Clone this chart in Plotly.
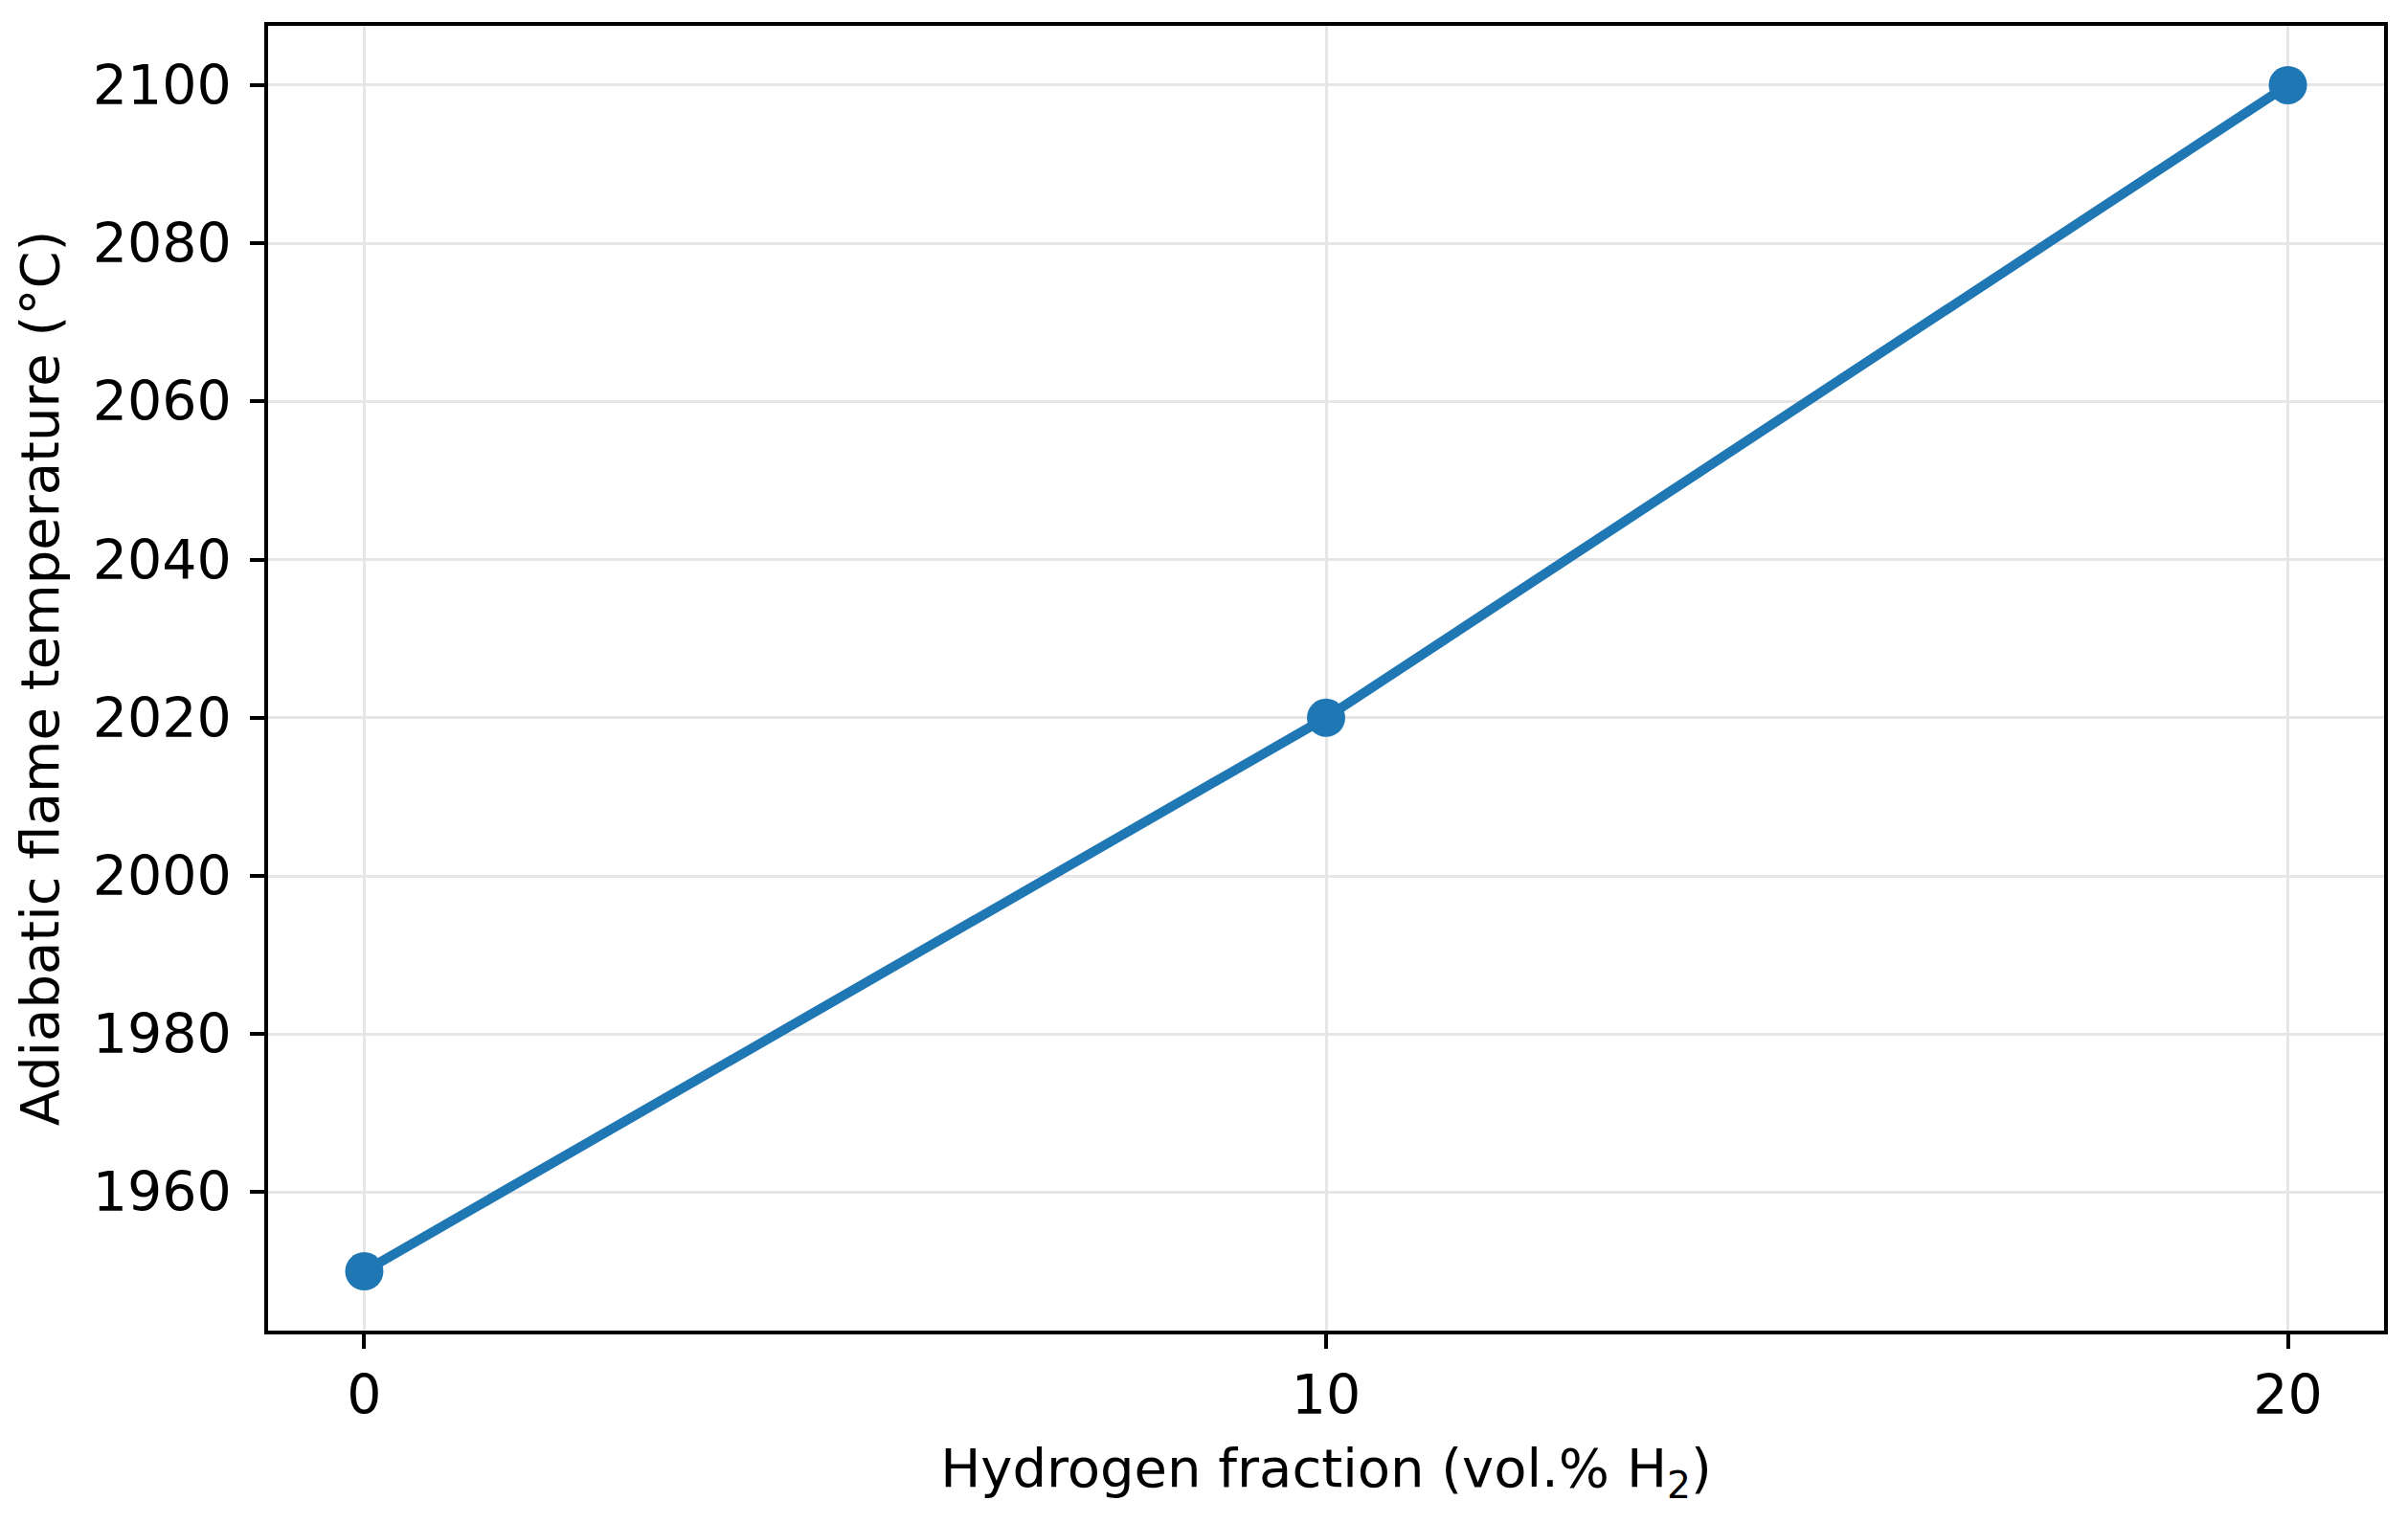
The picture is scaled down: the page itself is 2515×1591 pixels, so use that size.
import plotly.graph_objects as go

# data
h2_fraction = [0, 10, 20]
flame_temp = [1950, 2020, 2100]

x_ticks = [0, 10, 20]
y_ticks = [1960, 1980, 2000, 2020, 2040, 2060, 2080, 2100]

BLUE = '#1f77b4'
FONT = 'DejaVu Sans'

fig = go.Figure()

fig.add_trace(go.Scatter(
    x=h2_fraction,
    y=flame_temp,
    mode='lines+markers',
    line=dict(color=BLUE, width=10),
    marker=dict(color=BLUE, size=40),
    showlegend=False
))

axis_style = dict(
    showline=True,
    linecolor='black',
    linewidth=3.5,
    mirror=True,
    ticks='outside',
    ticklen=15,
    tickwidth=3.5,
    tickcolor='black',
    showgrid=True,
    gridcolor='#e6e6e6',
    gridwidth=3,
    zeroline=False,
    tickfont=dict(family=FONT, size=57, color='black'),
)

fig.update_xaxes(
    range=[-1, 21],
    tickvals=x_ticks,
    title=dict(text='Hydrogen fraction (vol.% H<sub>2</sub>)',
               font=dict(family=FONT, size=56, color='black'), standoff=26),
    **axis_style
)
fig.update_yaxes(
    range=[1942.5, 2107.5],
    tickvals=y_ticks,
    ticklabelstandoff=8,
    title=dict(text='Adiabatic flame temperature (°C)',
               font=dict(family=FONT, size=56, color='black'), standoff=18),
    **axis_style
)

# page body has an 8px margin, so the figure is shrunk to fit
fig.update_layout(
    width=2499,
    height=1575,
    paper_bgcolor='white',
    plot_bgcolor='white',
    margin=dict(l=272, r=17, t=19, b=193),
)

fig.write_html("out.html")
